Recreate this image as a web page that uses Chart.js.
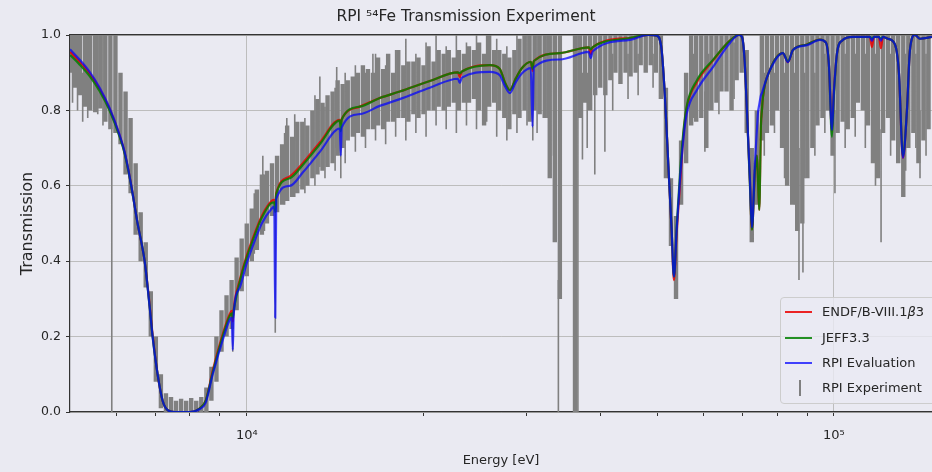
<!DOCTYPE html>
<html><head><meta charset="utf-8">
<script src="https://cdn.jsdelivr.net/npm/chart.js@4.4.1/dist/chart.umd.min.js"></script>
<style>
html,body{margin:0;padding:0;background:#eaeaf2;}
#wrap{position:relative;width:932px;height:472px;overflow:hidden;background:#eaeaf2;}
#legend{position:absolute;left:780px;top:297px;width:170px;height:107px;background:rgba(234,234,242,0.8);border:1px solid #cdcdcd;border-radius:4px;box-sizing:border-box;font-family:"DejaVu Sans";font-size:13px;color:#262626;}
.sw{position:absolute;left:4px;width:27px;height:2px;}
.eb{position:absolute;left:18px;width:1.5px;height:16px;background:#808080;}
.tx{position:absolute;left:41px;white-space:nowrap;line-height:16px;}
</style></head><body>
<div id="wrap"><canvas id="c" width="932" height="472"></canvas><div id="legend"></div></div>
<script>
// ---- tick labels / axes ----
const chartTitle = 'RPI \u2075\u2074Fe Transmission Experiment';
const xTitle = 'Energy [eV]';
const yTitle = 'Transmission';
const xMin = 5000, xMax = 146900;
const xTickValues = [6000,7000,8000,9000,10000,20000,30000,40000,50000,60000,70000,80000,90000,100000];
const xMajorValues = [10000,100000];
const xMajorLabels = ['10\u2074','10\u2075'];
const yTickValues = [0,0.2,0.4,0.6,0.8,1.0];

// ---- experiment (error-bar ranges) ----
const expE = [5000,5100,5202,5306,5412,5520,5631,5743,5858,5975,
6095,6217,6341,6468,6597,6729,6864,7001,7141,7284,
7430,7578,7730,7885,8042,8203,8367,8535,8705,8879,
9057,9238,9423,9611,9803,10000,10200,10404,10612,10824,
11041,11262,11487,11717,11951,12190,12434,12682,12936,13195,
13459,13728,14002,14282,14568,14859,15157,15460,15769,16084,
16406,16734,17069,17410,17758,18114,18476,18845,19222,19607,
20000,20400,20808,21224,21648,22082,22524,22974,23434,23902,
24380,24868,25364,25872,26390,26918,27456,28004,28564,29136,
29718,30314,30920,31538,32168,32812,33468,34138,34820,35516,
36228,36952,37690,38444,39214,40000,40800,41616,42448,43296,
44164,45048,45948,46868,47804,48760,49736,50728,51744,52780,
53836,54912,56008,57128,58272,59436,60628,61840,63076,64336,
65624,66936,68276,69640,71032,72456,73904,75380,76888,78428,
80000,81600,83232,84896,86592,88328,90096,91896,93736,95608,
97520,99472,101456,103488,105560,107672,109824,112016,114256,116544,
118872,121256,123680,126152,128672,131248,133872,136552,139280,142064,
144912];
const expLo = [0.90,0.86,0.84,0.81,0.80,0.795,0.805,0.77,0.75,0.74,
0.71,0.63,0.58,0.47,0.40,0.33,0.20,0.08,0.01,0.0,
0.0,0.0,0.0,0.0,0.0,0.0,0.0,0.0,0.03,0.08,
0.16,0.20,0.22,0.27,0.32,0.36,0.40,0.43,0.47,0.50,
0.52,0.53,0.55,0.56,0.57,0.58,0.59,0.60,0.62,0.63,
0.64,0.65,0.66,0.68,0.70,0.72,0.73,0.74,0.73,0.75,
0.75,0.76,0.75,0.77,0.77,0.78,0.78,0.77,0.79,0.78,
0.79,0.80,0.80,0.81,0.80,0.81,0.82,0.80,0.82,0.82,
0.83,0.80,0.76,0.81,0.82,0.80,0.78,0.75,0.79,0.78,
0.80,0.77,0.80,0.79,0.78,0.62,0.45,0.30,null,null,
0.0,0.78,0.82,0.80,0.84,0.86,0.84,0.88,0.90,0.87,
0.90,0.89,0.90,0.92,0.90,0.92,0.90,0.83,0.62,0.44,
0.30,0.55,0.66,0.76,0.77,0.78,0.70,0.80,0.82,0.85,
0.85,0.80,0.88,0.90,0.74,0.45,0.55,0.72,0.74,0.76,
0.80,0.70,0.60,0.55,0.48,0.50,0.62,0.70,0.76,0.78,
0.80,0.68,0.74,0.77,0.75,0.78,0.82,0.80,0.76,0.66,
0.62,0.74,0.78,0.72,0.66,0.57,0.70,0.74,0.66,0.72,
0.75];
const expHi = [1.02,1.02,1.02,1.02,1.02,1.02,1.02,1.02,1.02,1.02,
0.90,0.85,0.78,0.66,0.53,0.45,0.32,0.20,0.10,0.05,
0.04,0.03,0.035,0.03,0.037,0.03,0.04,0.065,0.12,0.20,
0.27,0.31,0.35,0.41,0.46,0.50,0.54,0.59,0.63,0.64,
0.66,0.68,0.71,0.76,0.73,0.77,0.77,0.76,0.80,0.83,
0.82,0.84,0.85,0.88,0.87,0.88,0.89,0.90,0.92,0.91,
0.90,0.94,0.91,0.95,0.90,0.96,0.92,0.93,0.93,0.94,
0.92,0.97,0.93,0.96,0.95,0.96,0.94,0.96,0.95,0.97,
0.96,0.98,0.95,1.0,0.96,0.96,0.95,0.94,0.96,0.99,
1.02,1.02,1.02,1.02,1.02,1.02,1.02,1.02,null,null,
1.02,1.02,1.02,1.02,1.02,1.02,1.02,1.02,1.02,1.02,
1.02,1.02,1.02,1.02,1.02,1.02,1.02,1.02,0.86,0.62,
0.52,0.72,0.90,1.02,1.02,1.02,1.02,1.02,1.02,1.02,
1.02,1.02,1.02,1.02,0.96,0.70,0.80,1.02,1.02,1.02,
1.02,1.02,1.02,1.02,1.02,1.02,1.02,1.02,1.02,1.02,
1.02,1.02,1.02,1.02,1.02,1.02,1.02,1.02,1.02,1.02,
1.02,1.02,1.02,1.02,1.02,1.02,1.02,1.02,1.02,1.02,
1.02];
// isolated / long error bars
const spikeE  = [5050,5150,5255,5360,5575,5690,5890,9466,10300,10650,
10718,11183,11600,11700,12070,12560,13065,13320,13590,14140,
14230,14460,14710,15310,15930,16400,16570,17240,17930,18660,
19410,20200,21010,21860,22750,23670,24620,25620,26650,27730,
28850,30010,30700,31220,32490,33300,33940,36640,37300,38000,
39150,40730,42000,44600,46400,49200,57600,60290,61200,63700,
67600,76100,79200,82400,85700,87190,88560,89200,92800,96500,
100400,104500,108700,113100,117700,120300,124900,132500,137900,140150,
143500];
const spikeLo = [0.82,0.80,0.77,0.78,0.79,0.76,0.0,0.16,0.42,0.50,
0.48,0.21,0.55,0.60,0.57,0.58,0.60,0.65,0.62,0.64,
0.70,0.62,0.66,0.69,0.70,0.78,0.72,0.71,0.73,0.72,
0.74,0.73,0.76,0.75,0.74,0.76,0.75,0.77,0.73,0.72,
0.74,0.76,0.72,0.74,0.78,0.68,0.0,0.0,0.67,0.70,
0.63,0.69,0.80,0.83,0.84,0.86,0.78,0.69,0.80,0.79,
0.83,0.68,0.74,0.62,0.55,0.35,0.37,0.62,0.68,0.74,
0.58,0.70,0.73,0.70,0.60,0.45,0.68,0.64,0.70,0.62,
0.68];
const spikeHi = [1.02,1.02,0.90,1.02,1.02,1.02,0.80,0.26,0.58,0.68,
0.63,0.56,0.74,0.78,0.79,0.78,0.84,0.89,0.81,0.86,
0.915,0.77,0.90,0.92,0.90,0.95,0.95,0.92,0.96,0.99,
0.95,0.98,1.0,0.97,1.0,0.98,1.0,1.0,0.99,0.97,
1.0,1.0,0.93,1.0,1.0,1.0,0.35,1.02,0.90,0.90,
0.90,0.90,0.95,0.95,0.95,0.95,0.95,0.85,0.95,0.95,
0.98,0.90,0.90,0.90,0.90,0.70,0.70,0.90,0.90,0.95,
0.80,0.95,0.95,0.95,0.95,0.75,0.95,0.95,0.95,0.80,
0.95];

// ---- evaluated transmission curves ----
const curveE = [5000,5190,5400,5617,5842,6074,6194,6342,6518,6700,
6832,6913,7050,7190,7333,7537,8000,8317,8514,8751,
9138,9355,9429,9466,9503,9729,10000,10238,10606,11030,
11138,11182,11226,11838,12454,13316,14400,14457,14513,15577,
16849,18226,20500,22883,23063,23245,25936,26975,27509,28054,
28722,29406,30463,30666,30823,34140,38236,38537,38841,44923,
48220,49953,50881,51545,52218,52918,53398,53967,54670,55382,
56124,58435,62224,66510,68898,69713,70400,71095,71936,72503,
73361,73938,74229,74608,75107,75402,75699,77807,81875,83498,
85153,89950,94661,96914,98061,99218,100000,101180,103190,107740,
115150,116060,116970,119290,120230,121180,123580,127020,129030,131070,
133150,134730,137400,140120,146890];
const rpiEval = [0.962,0.935,0.902,0.86,0.806,0.735,0.69,0.61,0.50,0.40,
0.28,0.20,0.10,0.03,0.005,0.0,0.0,0.008,0.025,0.10,
0.20,0.245,0.25,0.165,0.26,0.33,0.395,0.44,0.50,0.54,
0.545,0.25,0.565,0.60,0.635,0.69,0.752,0.68,0.755,0.79,
0.812,0.83,0.86,0.884,0.873,0.887,0.902,0.893,0.865,0.846,
0.875,0.898,0.912,0.757,0.914,0.935,0.955,0.939,0.957,0.987,
1.0,0.998,0.96,0.836,0.66,0.483,0.359,0.483,0.615,0.72,
0.79,0.854,0.915,0.979,1.0,0.995,0.94,0.80,0.615,0.49,
0.66,0.75,0.793,0.815,0.84,0.846,0.855,0.907,0.952,0.928,
0.96,0.973,0.987,0.98,0.92,0.748,0.85,0.95,0.985,0.995,
0.995,0.985,0.995,0.995,0.985,0.995,0.99,0.975,0.90,0.674,
0.80,0.96,1.0,0.99,0.995];
const endf = [0.955,0.929,0.897,0.856,0.803,0.733,0.688,0.61,0.50,0.40,
0.285,0.205,0.10,0.03,0.005,0.0,0.0,0.01,0.03,0.11,
0.215,0.26,0.268,0.24,0.275,0.35,0.415,0.46,0.52,0.56,
0.563,0.55,0.58,0.625,0.66,0.715,0.775,0.765,0.777,0.81,
0.833,0.85,0.878,0.901,0.888,0.903,0.92,0.91,0.875,0.854,
0.885,0.912,0.929,0.905,0.931,0.952,0.967,0.95,0.968,0.992,
1.0,0.998,0.96,0.836,0.66,0.48,0.35,0.475,0.60,0.73,
0.805,0.875,0.932,0.985,1.0,0.995,0.94,0.80,0.61,0.485,
0.64,0.68,0.62,0.536,0.76,0.80,0.835,0.907,0.952,0.928,
0.96,0.975,0.988,0.98,0.92,0.745,0.85,0.95,0.985,0.995,
0.995,0.968,0.995,0.995,0.965,0.995,0.99,0.975,0.90,0.674,
0.80,0.96,1.0,0.99,0.995];
const jeff = [0.947,0.922,0.891,0.851,0.799,0.73,0.686,0.608,0.50,0.40,
0.28,0.20,0.10,0.03,0.005,0.0,0.0,0.01,0.03,0.105,
0.21,0.255,0.262,0.25,0.27,0.345,0.41,0.455,0.515,0.555,
0.556,0.53,0.578,0.62,0.655,0.71,0.773,0.745,0.776,0.81,
0.833,0.85,0.878,0.901,0.898,0.903,0.92,0.91,0.875,0.854,
0.885,0.912,0.929,0.91,0.931,0.952,0.967,0.962,0.968,0.992,
1.0,0.998,0.96,0.836,0.66,0.483,0.359,0.49,0.63,0.74,
0.81,0.88,0.934,0.985,1.0,0.995,0.94,0.80,0.60,0.483,
0.64,0.68,0.62,0.536,0.76,0.80,0.835,0.907,0.952,0.93,
0.96,0.975,0.988,0.98,0.92,0.73,0.84,0.95,0.985,0.995,
0.995,0.99,0.995,0.995,0.99,0.995,0.99,0.975,0.90,0.68,
0.80,0.96,1.0,0.99,0.995];

// ---- build datasets ----
const bars = (E, lo, hi) => {
  const out = [];
  for (let i = 0; i < E.length; i++) {
    if (lo[i] === null) continue;
    out.push({x:E[i], y:lo[i]}, {x:E[i], y:hi[i]}, {x:E[i], y:null});
  }
  return out;
};
const curve = arr => curveE.map((e, i) => ({x:e, y:arr[i]}));

const FONT = 'DejaVu Sans';
const gridColor = '#bdbdbd';
const spine = '#333333';
const textColor = '#262626';
const colRed = 'rgba(235,0,0,0.85)';
const colGreen = 'rgba(0,128,0,0.85)';
const colBlue = 'rgba(0,0,255,0.72)';
const colGray = '#808080';

const common = {pointRadius:0, pointHoverRadius:0, clip:0, fill:false};
const datasets = [
  Object.assign({label:'RPI Evaluation', data:curve(rpiEval), borderColor:colBlue, borderWidth:2.2, cubicInterpolationMode:'monotone', order:1}, common),
  Object.assign({label:'JEFF3.3', data:curve(jeff), borderColor:colGreen, borderWidth:2.2, cubicInterpolationMode:'monotone', order:2}, common),
  Object.assign({label:'ENDF/B-VIII.1\u03B23', data:curve(endf), borderColor:colRed, borderWidth:2.2, cubicInterpolationMode:'monotone', order:3}, common),
  Object.assign({label:'RPI Experiment', data:bars(expE, expLo, expHi), borderColor:colGray, borderWidth:4.4, spanGaps:false, borderCapStyle:'butt', order:4}, common),
  Object.assign({label:'RPI Experiment', data:bars(spikeE, spikeLo, spikeHi), borderColor:colGray, borderWidth:1.6, spanGaps:false, borderCapStyle:'butt', order:5}, common)
];

new Chart(document.getElementById('c'), {
  type:'line',
  data:{datasets},
  options:{
    responsive:false, animation:false, events:[],
    layout:{padding:0},
    plugins:{
      legend:{display:false}, tooltip:{enabled:false},
      title:{display:true, text:chartTitle, color:textColor, font:{family:FONT, size:15.5, weight:'normal'}, padding:{top:8, bottom:8.4}}
    },
    scales:{
      x:{type:'logarithmic', position:'bottom', min:xMin, max:xMax,
        afterBuildTicks:s => { s.ticks = xTickValues.map(v => ({value:v})); },
        afterFit:s => { s.height = 60; },
        ticks:{autoSkip:false, maxRotation:0, padding:12, color:textColor, font:{family:FONT, size:13},
          callback:v => { const k = xMajorValues.indexOf(v); return k >= 0 ? xMajorLabels[k] : ''; }},
        grid:{color:ctx => (ctx.tick && xMajorValues.indexOf(ctx.tick.value) >= 0) ? gridColor : 'rgba(0,0,0,0)', tickColor:spine, tickLength:4, lineWidth:1},
        border:{display:true, color:spine, width:1.2},
        title:{display:true, text:xTitle, color:textColor, font:{family:FONT, size:13}, padding:{top:0, bottom:4}}
      },
      x2:{type:'linear', position:'top', min:0, max:1, display:true,
        ticks:{display:false}, grid:{display:false, drawTicks:false},
        border:{display:true, color:spine, width:1.2},
        afterFit:s => { s.height = 0; }
      },
      y:{type:'linear', min:0, max:1,
        afterBuildTicks:s => { s.ticks = yTickValues.map(v => ({value:v})); },
        afterFit:s => { s.width = 70; },
        ticks:{padding:5, color:textColor, font:{family:FONT, size:12.5}, callback:v => Number(v).toFixed(1)},
        grid:{color:gridColor, tickColor:spine, tickLength:4, lineWidth:1},
        border:{display:true, color:spine, width:1.2},
        title:{display:true, text:yTitle, color:textColor, font:{family:FONT, size:16}, padding:{top:18, bottom:0}}
      }
    }
  }
});

// ---- legend (HTML overlay, built from datasets) ----
const legend = document.getElementById('legend');
const legendItems = [datasets[2], datasets[1], datasets[0], datasets[3]];
const rowCenters = [14, 39.5, 65, 90];
legendItems.forEach((d, i) => {
  const c = rowCenters[i];
  if (d.label === 'RPI Experiment') {
    const e = document.createElement('div'); e.className = 'eb'; e.style.top = (c - 8) + 'px'; e.style.background = d.borderColor; legend.appendChild(e);
  } else {
    const s = document.createElement('div'); s.className = 'sw'; s.style.top = (c - 1) + 'px'; s.style.background = d.borderColor; legend.appendChild(s);
  }
  const t = document.createElement('div'); t.className = 'tx'; t.style.top = (c - 8) + 'px';
  t.innerHTML = d.label.replace('\u03B2', '<i>\u03B2</i>');
  legend.appendChild(t);
});
</script>
</body></html>
